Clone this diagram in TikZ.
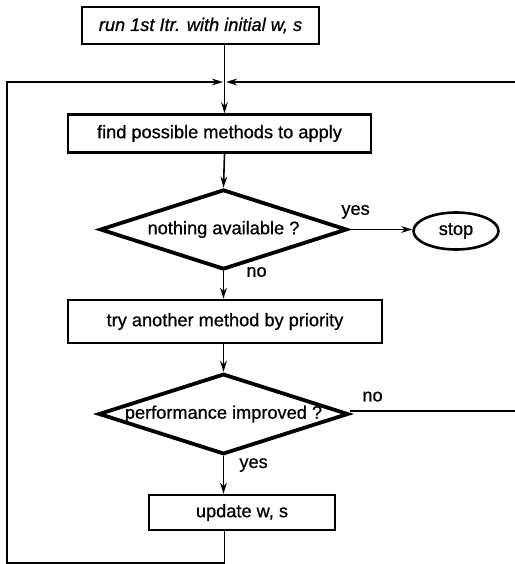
\documentclass[tikz,border=0pt]{standalone}
\usepackage{fontspec}
\setmainfont[FakeBold=0.8]{Liberation Sans}
\usetikzlibrary{shapes.geometric,arrows.meta}
\begin{document}
\begin{tikzpicture}[x=0.5pt,y=-0.5pt,
  font=\fontsize{9.1}{11}\selectfont,
  stepbox/.style={draw,line width=1.3pt,rectangle,inner sep=0pt},
  decision/.style={draw,line width=1.9pt,diamond,inner sep=0pt,aspect=3.1},
  terminal/.style={draw,line width=1.3pt,ellipse,inner sep=0pt,minimum width=42.5pt,minimum height=18.5pt},
  flow/.style={line width=0.8pt,-{Stealth[length=5.5pt,width=3.4pt]}},
  link/.style={line width=0.8pt},
  tag/.style={inner sep=0pt}]
\useasboundingbox (0,0) rectangle (515,564);

% process boxes and decisions
\node[stepbox,minimum width=118.5pt,minimum height=18.5pt] (init) at (200.5,25.5) {\itshape run 1st Itr. with initial w, s};
\coordinate (j) at (224.5,82);
\node[stepbox,minimum width=151.5pt,minimum height=19pt] (find) at (219.5,133.5) {find possible methods to apply};
\node[decision,minimum width=123.5pt,minimum height=40pt] (none) at (223.5,229.5) {nothing available ?};
\node[terminal] (stop) at (456,231) {stop};
\node[stepbox,minimum width=157pt,minimum height=21.5pt] (try) at (225,321.5) {try another method by priority};
\node[decision,minimum width=123.5pt,minimum height=39pt] (perf) at (223.5,414) {performance improved ?};
\node[stepbox,minimum width=93pt,minimum height=17.5pt] (upd) at (242,512.5) {update w, s};

% loop corners
\coordinate (bl) at (224.5,563);
\coordinate (lb) at (7,563);
\coordinate (lt) at (7,82);
\coordinate (rb) at (517,411);
\coordinate (rt) at (517,82);

% main flow
\draw[link] (init.south -| j) -- (j);
\draw[flow] (j) -- (find.north -| j);
\draw[flow] (find.south -| j) -- (none.north);
\draw[flow] (none.east) -- (none.east -| stop.west);
\draw[flow] (none.south) -- (try.north -| none.south);
\draw[flow] (try.south -| perf.north) -- (perf.north);
\draw[flow] (perf.south) -- (upd.north -| perf.south);

% feedback loops into the junction
\draw[flow] (upd.south -| bl) -- (bl) -- (lb) -- (lt) -- ([xshift=-0.8pt]j);
\draw[flow] (perf.east |- rb) -- (rb) -- (rt) -- ([xshift=0.8pt]j);

% branch labels
\node[tag,anchor=south west] (ly1) at (341,219) {yes};
\node[tag,anchor=west] (ln1) at (246,272) {no};
\node[tag,anchor=south west] (ln2) at (362,402) {no};
\node[tag,anchor=west] (ly2) at (239,465) {yes};
\end{tikzpicture}
\end{document}
